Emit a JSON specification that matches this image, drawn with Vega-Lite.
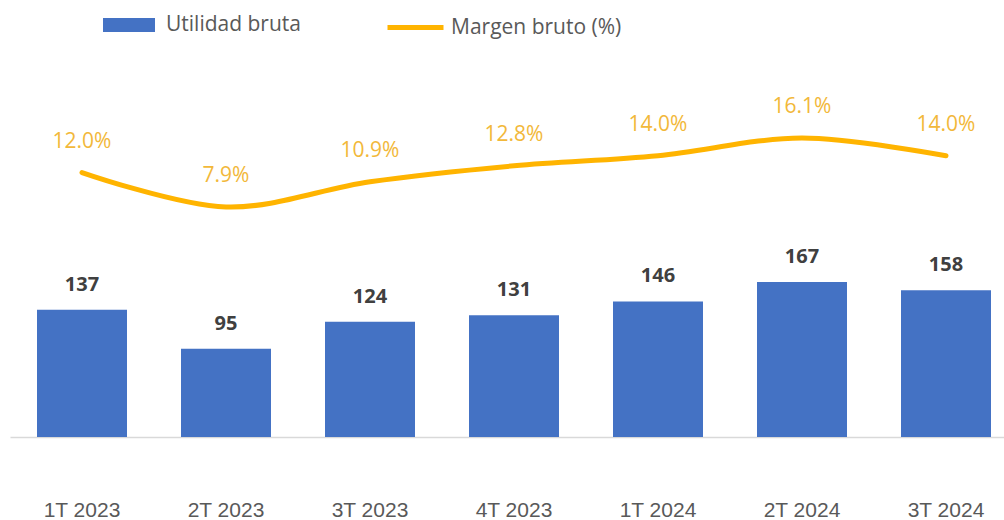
{
  "$schema": "https://vega.github.io/schema/vega-lite/v6.json",
  "autosize": "none",
  "width": 994,
  "height": 377,
  "padding": {"left": 10, "top": 60, "right": 0, "bottom": 83},
  "background": "white",
  "config": {"view": {"stroke": null}},
  "data": {
    "values": [
      {"periodo": "1T 2023", "utilidad": 137, "margen": 0.120},
      {"periodo": "2T 2023", "utilidad": 95, "margen": 0.079},
      {"periodo": "3T 2023", "utilidad": 124, "margen": 0.109},
      {"periodo": "4T 2023", "utilidad": 131, "margen": 0.128},
      {"periodo": "1T 2024", "utilidad": 146, "margen": 0.140},
      {"periodo": "2T 2024", "utilidad": 167, "margen": 0.161},
      {"periodo": "3T 2024", "utilidad": 158, "margen": 0.140}
    ]
  },
  "encoding": {
    "x": {
      "field": "periodo",
      "type": "ordinal",
      "sort": null,
      "scale": {"range": [0, 1008], "paddingInner": 0.375, "paddingOuter": 0.1875},
      "axis": {
        "title": null,
        "labelAngle": 0,
        "ticks": false,
        "domainColor": "#D9D9D9",
        "domainWidth": 1.5,
        "labelFont": "Liberation Sans",
        "labelFontSize": 21,
        "labelColor": "#595959",
        "labelBaseline": "middle",
        "labelPadding": 73
      }
    }
  },
  "layer": [
    {
      "layer": [
        {
          "mark": {"type": "bar"},
          "encoding": {
            "y": {"field": "utilidad", "type": "quantitative", "scale": {"domain": [0, 406], "nice": false, "zero": true}, "axis": null},
            "fill": {
              "datum": "Utilidad bruta",
              "type": "nominal",
              "scale": {"range": ["#4472C4"]},
              "legend": {
                "title": null,
                "orient": "none",
                "legendX": 93,
                "legendY": -61,
                "symbolType": "M-1,-0.27H1V0.27H-1Z",
                "symbolSize": 2704,
                "symbolStrokeWidth": 0,
                "labelFont": "Open Sans",
                "labelFontSize": 21,
                "labelColor": "#595959",
                "labelOffset": 11,
                "labelLimit": 300
              }
            }
          }
        },
        {
          "mark": {"type": "text", "font": "Open Sans", "fontWeight": "bold", "fontSize": 20, "color": "#404040", "baseline": "middle", "dy": -25},
          "encoding": {
            "y": {"field": "utilidad", "type": "quantitative"},
            "text": {"field": "utilidad", "type": "quantitative"}
          }
        }
      ]
    },
    {
      "layer": [
        {
          "mark": {"type": "line", "strokeWidth": 5, "strokeCap": "round", "interpolate": "catmull-rom"},
          "encoding": {
            "y": {"field": "margen", "type": "quantitative", "scale": {"domain": [-0.195, 0.254], "nice": false, "zero": false}, "axis": null},
            "stroke": {
              "datum": "Margen bruto (%)",
              "type": "nominal",
              "scale": {"range": ["#FFB400"]},
              "legend": {
                "title": null,
                "orient": "none",
                "legendX": 375,
                "legendY": -63,
                "symbolType": "stroke",
                "symbolSize": 3136,
                "symbolStrokeWidth": 5,
                "labelFont": "Open Sans",
                "labelFontSize": 21,
                "labelColor": "#595959",
                "labelOffset": 5,
                "labelLimit": 300
              }
            }
          }
        },
        {
          "mark": {"type": "text", "font": "Open Sans", "fontSize": 21, "color": "#F2B83A", "baseline": "middle", "dy": -31},
          "encoding": {
            "y": {"field": "margen", "type": "quantitative"},
            "text": {"field": "margen", "type": "quantitative", "format": ".1%"}
          }
        }
      ]
    }
  ],
  "resolve": {"scale": {"y": "independent", "fill": "independent", "stroke": "independent"}}
}
